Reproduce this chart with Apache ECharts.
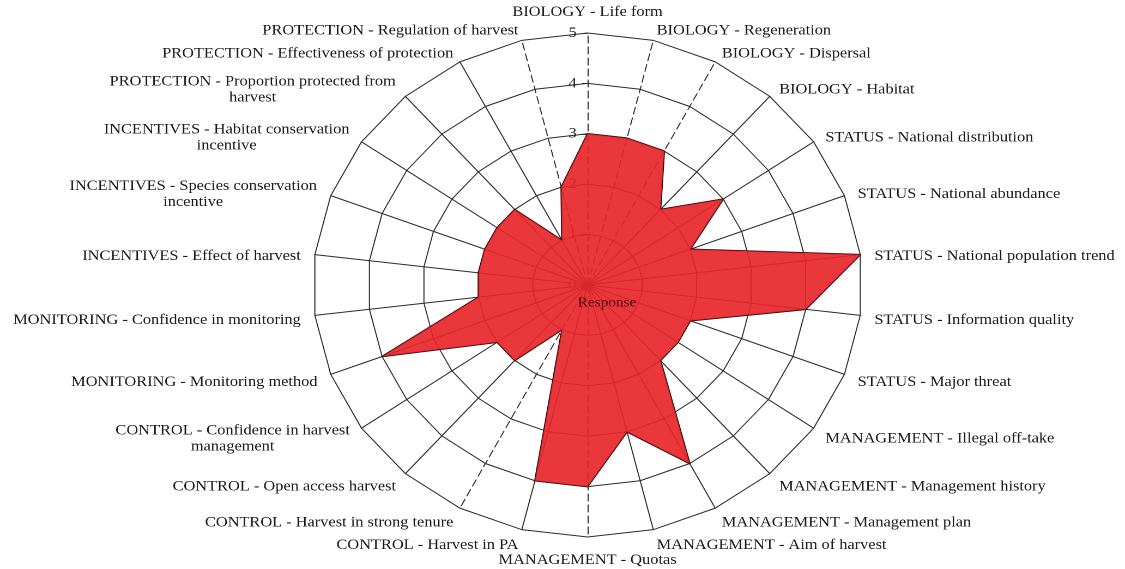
<!DOCTYPE html>
<html>
<head>
<meta charset="utf-8">
<script src="https://cdn.jsdelivr.net/npm/echarts@6/dist/echarts.min.js"></script>
<style>
html,body{margin:0;padding:0;background:#ffffff;overflow:hidden;}
#wrap{width:1125px;height:569px;overflow:hidden;}
/* the original scan is an Excel radar stretched horizontally (~1.09x); reproduce that stretch */
#chart{width:1032px;height:569px;transform:scaleX(1.0901);transform-origin:0 0;}
</style>
</head>
<body>
<div id="wrap"><div id="chart"></div></div>
<script>
// ---- data (clockwise from the top) ----
const categories = [
  'BIOLOGY - Life form',
  'BIOLOGY - Regeneration',
  'BIOLOGY - Dispersal',
  'BIOLOGY - Habitat',
  'STATUS - National distribution',
  'STATUS - National abundance',
  'STATUS - National population trend',
  'STATUS - Information quality',
  'STATUS - Major threat',
  'MANAGEMENT - Illegal off-take',
  'MANAGEMENT - Management history',
  'MANAGEMENT - Management plan',
  'MANAGEMENT - Aim of harvest',
  'MANAGEMENT - Quotas',
  'CONTROL - Harvest in PA',
  'CONTROL - Harvest in strong tenure',
  'CONTROL - Open access harvest',
  'CONTROL - Confidence in harvest\nmanagement',
  'MONITORING - Monitoring method',
  'MONITORING - Confidence in monitoring',
  'INCENTIVES - Effect of harvest',
  'INCENTIVES - Species conservation\nincentive',
  'INCENTIVES - Habitat conservation\nincentive',
  'PROTECTION - Proportion protected from\nharvest',
  'PROTECTION - Effectiveness of protection',
  'PROTECTION - Regulation of harvest'
];
const responseValues = [3, 3, 3, 2, 3, 2, 5, 4, 2, 2, 2, 4, 3, 4, 4, 1, 2, 2, 4, 2, 2, 2, 2, 2, 1, 2];
const tickLabels = ['0', '1', '2', '3', '4', '5'];
const axisMax = 5;
const seriesName = 'Response';
const dashedSpokes = [
  'BIOLOGY - Life form', 'BIOLOGY - Regeneration', 'BIOLOGY - Dispersal',
  'MANAGEMENT - Quotas', 'CONTROL - Harvest in strong tenure', 'PROTECTION - Regulation of harvest'
];

// ---- layout / style ----
const FONT = '"Liberation Serif", "DejaVu Serif", serif';
const NAME_SIZE = 15;
const LINE_COLOR = '#2c2c2c';

// ECharts places radar indicators counter-clockwise; reorder so the picture reads clockwise.
const order = [0];
for (let i = categories.length - 1; i >= 1; i--) order.push(i);

// centred multi-line names: measure the longest line
const measureCtx = document.createElement('canvas').getContext('2d');
measureCtx.font = NAME_SIZE + 'px "Liberation Serif"';
const rich = {};
const nameKey = {};
categories.forEach(function (c, i) {
  if (c.indexOf('\n') >= 0) {
    const lines = c.split('\n');
    const w = Math.ceil(Math.max.apply(null, lines.map(function (l) { return measureCtx.measureText(l).width; })));
    rich['m' + i] = { width: w, align: 'center', fontSize: NAME_SIZE, fontFamily: FONT, color: '#1a1a1a', lineHeight: 16 };
    nameKey[c] = 'm' + i;
  }
});

const indicators = order.map(function (idx, k) {
  const name = categories[idx];
  const ind = { name: name, min: 0, max: axisMax };
  if (dashedSpokes.indexOf(name) >= 0) {
    ind.axisLine = { lineStyle: { type: [7, 4] } };
  }
  if (k === 0) {
    ind.axisLabel = { show: true };
    ind.axisTick = { show: true };
  }
  if (name === 'MANAGEMENT - Quotas') {
    ind.nameTextStyle = { padding: [2, 0, 0, 0] };
  }
  return ind;
});

const chart = echarts.init(document.getElementById('chart'), null, { renderer: 'canvas', devicePixelRatio: 2 });
chart.setOption({
  backgroundColor: '#ffffff',
  animation: false,
  title: {
    text: seriesName,
    left: 525,
    top: 291,
    textStyle: { fontSize: 14, fontWeight: 'normal', fontFamily: FONT, color: '#4a0c0c' }
  },
  radar: {
    center: [539, 285],
    radius: 252,
    startAngle: 90,
    shape: 'polygon',
    splitNumber: 5,
    nameGap: 13,
    axisName: {
      color: '#1a1a1a',
      fontFamily: FONT,
      fontSize: NAME_SIZE,
      lineHeight: 16,
      padding: [6, 0, 0, 0],
      rich: rich,
      formatter: function (name) {
        const key = nameKey[name];
        if (!key) return name;
        return name.split('\n').map(function (l) { return '{' + key + '|' + l + '}'; }).join('\n');
      }
    },
    axisLine: { lineStyle: { color: LINE_COLOR, width: 1 } },
    splitLine: { lineStyle: { color: LINE_COLOR, width: 1 } },
    splitArea: { show: false },
    axisTick: { show: false, length: 5, lineStyle: { color: LINE_COLOR } },
    axisLabel: {
      show: false,
      color: '#222222',
      fontFamily: FONT,
      fontSize: 15,
      margin: 10,
      formatter: function (v) { return tickLabels[Math.round(v)]; }
    },
    indicator: indicators
  },
  series: [{
    name: seriesName,
    type: 'radar',
    symbol: 'none',
    lineStyle: { color: '#2a0e0e', width: 1.6 },
    areaStyle: { color: '#e8262b', opacity: 0.92 },
    data: [{ name: seriesName, value: order.map(function (idx) { return responseValues[idx]; }) }]
  }]
});
</script>
</body>
</html>
